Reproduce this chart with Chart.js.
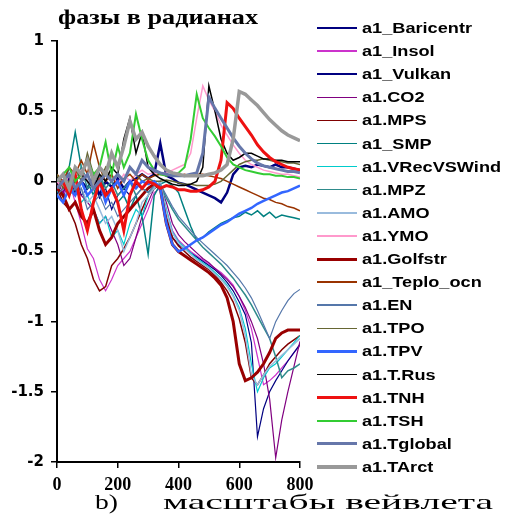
<!DOCTYPE html>
<html>
<head>
<meta charset="utf-8">
<script src="https://cdn.jsdelivr.net/npm/chart.js@4/dist/chart.umd.min.js"></script>
<style>
  html, body { margin: 0; padding: 0; background: #fff; }
  #wrap { position: relative; width: 510px; height: 523px; overflow: hidden; }
  #c { position: absolute; left: 0; top: 0; }
  .txt { position: absolute; white-space: nowrap; transform-origin: left center; color: #000; }
  #title { left: 58px; top: 6px; font: bold 22px/22px "Liberation Serif", serif; }
  #xtitle { left: 163px; top: 491px; font: 22px/22px "Liberation Serif", serif; }
  #blabel { left: 95px; top: 491px; font: 22px/22px "Liberation Serif", serif; }
  .leg { position: absolute; left: 317px; height: 22px; width: 193px; }
  .leg .ln { position: absolute; left: 0; width: 40px; }
  .leg .lt { position: absolute; left: 45px; top: 2px; font: bold 15px/18px "Liberation Sans", Arial, sans-serif;
             white-space: nowrap; transform-origin: left center; color: #000; }
</style>
</head>
<body>
<div id="wrap">
  <canvas id="c" width="510" height="523"></canvas>
  <div id="title" class="txt">фазы в радианах</div>
  <div id="blabel" class="txt">b)</div>
  <div id="xtitle" class="txt">масштабы вейвлета</div>
  <div id="legend"></div>
</div>
<script>
(function () {
  'use strict';

  /* ── Data ────────────────────────────────────────────────────────────── */
  const xScales = [0, 20, 40, 60, 80, 100, 120, 140, 160, 180,
                   200, 220, 240, 260, 280, 300, 320, 340, 360, 380,
                   400, 420, 440, 460, 480, 500, 520, 540, 560, 580,
                   600, 620, 640, 660, 680, 700, 720, 740, 760, 780, 800];
  const xTicks = [0, 200, 400, 600, 800];
  const yTicks = [1, 0.5, 0, -0.5, -1, -1.5, -2];

  const seriesNames = ['a1_Baricentr', 'a1_Insol', 'a1_Vulkan', 'a1.CO2', 'a1.MPS',
                       'a1_SMP', 'a1.VRecVSWind', 'a1.MPZ', 'a1.AMO', 'a1.YMO',
                       'a1.Golfstr', 'a1_Teplo_ocn', 'a1.EN', 'a1.TPO', 'a1.TPV',
                       'a1.T.Rus', 'a1.TNH', 'a1.TSH', 'a1.Tglobal', 'a1.TArct'];

  const baricentr = [-0.05, -0.1, 0.02, -0.08, 0.0, -0.05, 0.03, -0.1, 0.0, -0.04,
                     0.02, -0.05, 0.0, 0.02, 0.05, 0.02, 0.05, 0.27, 0.04, 0.02,
                     -0.01, -0.02, -0.04, -0.06, -0.08, -0.1, -0.12, -0.15, -0.08, 0.05,
                     0.1, 0.11, 0.1, 0.12, 0.11, 0.1, 0.12, 0.1, 0.1, 0.09, 0.08];
  const insol = [-0.05, -0.1, 0.0, -0.15, -0.3, -0.48, -0.55, -0.7, -0.78, -0.7,
                 -0.6, -0.55, -0.5, -0.4, -0.3, -0.2, -0.08, -0.05, -0.2, -0.35,
                 -0.42, -0.46, -0.5, -0.53, -0.56, -0.59, -0.62, -0.65, -0.69, -0.74,
                 -0.82, -0.92, -1.05, -1.25, -1.45, -1.42, -1.38, -1.33, -1.28, -1.22, -1.17];
  const vulkan = [-0.1, 0.0, -0.05, 0.05, -0.1, -0.05, 0.0, -0.12, -0.05, -0.2,
                  -0.1, -0.05, -0.1, -0.02, -0.05, 0.0, -0.02, -0.05, -0.25, -0.4,
                  -0.45, -0.48, -0.51, -0.54, -0.57, -0.6, -0.63, -0.67, -0.72, -0.78,
                  -0.86, -0.95, -1.15, -1.82, -1.62, -1.5, -1.42, -1.35, -1.28, -1.22, -1.16];
  const co2 = [0.0, -0.08, 0.05, -0.05, -0.1, -0.15, -0.2, -0.3, -0.25, -0.35,
               -0.45, -0.6, -0.55, -0.4, -0.25, -0.15, -0.05, -0.03, -0.15, -0.3,
               -0.38, -0.43, -0.47, -0.51, -0.55, -0.58, -0.62, -0.66, -0.7, -0.75,
               -0.82, -0.9, -1.0, -1.12, -1.3, -1.55, -1.97, -1.7, -1.5, -1.32, -1.14];
  const mps = [-0.05, -0.15, -0.2, -0.3, -0.45, -0.55, -0.7, -0.78, -0.75, -0.6,
               -0.55, -0.48, -0.4, -0.3, -0.2, -0.1, -0.05, -0.02, -0.25, -0.4,
               -0.46, -0.5, -0.54, -0.57, -0.6, -0.63, -0.67, -0.72, -0.78, -0.86,
               -0.98, -1.15, -1.4, -1.45, -1.38, -1.3, -1.25, -1.2, -1.16, -1.13, -1.1];
  const smp = [0.02, -0.05, 0.1, 0.35, 0.1, 0.0, -0.1, 0.05, -0.1, -0.05,
               -0.15, -0.1, -0.2, -0.1, -0.25, -0.52, -0.1, -0.02, 0.0, -0.03,
               -0.08, -0.2, -0.32, -0.42, -0.4, -0.36, -0.33, -0.3, -0.28, -0.26,
               -0.25, -0.22, -0.24, -0.21, -0.25, -0.22, -0.26, -0.24, -0.25, -0.26, -0.27];
  const vrec = [-0.08, 0.0, -0.1, -0.05, -0.15, -0.1, -0.2, -0.3, -0.25, -0.4,
                -0.35, -0.45, -0.3, -0.2, -0.25, -0.1, -0.05, 0.0, -0.2, -0.36,
                -0.43, -0.47, -0.51, -0.55, -0.58, -0.61, -0.65, -0.69, -0.74, -0.81,
                -0.9, -1.05, -1.3, -1.5, -1.4, -1.33, -1.3, -1.25, -1.2, -1.15, -1.1];
  const mpz = [0.0, 0.05, -0.05, 0.0, 0.1, -0.05, 0.0, 0.05, -0.05, 0.0,
               -0.1, -0.05, 0.0, -0.1, -0.05, -0.08, -0.03, -0.02, -0.12, -0.2,
               -0.27, -0.32, -0.37, -0.42, -0.47, -0.51, -0.55, -0.59, -0.64, -0.69,
               -0.75, -0.81, -0.88, -0.96, -1.04, -1.12, -1.25, -1.4, -1.35, -1.33, -1.3];
  const amo = [-0.05, 0.05, -0.1, 0.0, -0.05, -0.15, -0.1, -0.2, -0.3, -0.25,
               -0.35, -0.5, -0.4, -0.3, -0.15, -0.1, -0.05, 0.0, -0.22, -0.37,
               -0.44, -0.48, -0.52, -0.56, -0.59, -0.62, -0.66, -0.7, -0.75, -0.82,
               -0.92, -1.1, -1.38, -1.45, -1.38, -1.32, -1.28, -1.24, -1.2, -1.16, -1.12];
  const ymo = [0.0, -0.05, 0.05, 0.0, 0.08, 0.0, -0.05, 0.05, 0.0, 0.05,
               -0.02, 0.05, 0.0, 0.05, 0.08, 0.05, 0.06, 0.05, 0.06, 0.08,
               0.1, 0.12, 0.2, 0.45, 0.68, 0.58, 0.5, 0.4, 0.33, 0.26,
               0.2, 0.15, 0.12, 0.1, 0.08, 0.07, 0.06, 0.05, 0.05, 0.04, 0.03];
  const golfstr = [-0.05, -0.1, -0.2, -0.15, -0.25, -0.3, -0.2, -0.35, -0.45, -0.4,
                   -0.3, -0.25, -0.2, -0.15, -0.1, -0.05, -0.02, -0.05, -0.3, -0.45,
                   -0.5, -0.53, -0.56, -0.59, -0.62, -0.65, -0.69, -0.74, -0.83, -1.0,
                   -1.3, -1.42, -1.4, -1.36, -1.3, -1.22, -1.12, -1.08, -1.06, -1.06, -1.06];
  const teplo = [0.05, 0.0, 0.1, 0.05, 0.15, 0.05, 0.27, 0.1, 0.0, 0.05,
                 -0.05, 0.02, 0.05, 0.0, 0.05, 0.02, 0.04, 0.05, 0.04, 0.05,
                 0.04, 0.05, 0.04, 0.05, 0.05, 0.04, 0.03, 0.02, 0.0, -0.02,
                 -0.04, -0.06, -0.08, -0.1, -0.12, -0.13, -0.15, -0.16, -0.18, -0.19, -0.21];
  const en = [-0.1, -0.05, 0.0, -0.1, -0.05, -0.2, -0.15, -0.1, -0.2, -0.15,
              -0.25, -0.2, -0.15, -0.1, -0.05, -0.08, -0.03, -0.02, -0.1, -0.18,
              -0.25, -0.3, -0.35, -0.4, -0.44, -0.48, -0.52, -0.56, -0.6, -0.65,
              -0.7, -0.76, -0.83, -0.92, -1.02, -1.12, -1.0, -0.92, -0.85, -0.8, -0.77];
  const tpo = [0.05, -0.05, 0.0, 0.1, 0.0, 0.2, 0.05, 0.0, 0.1, 0.0,
               0.05, 0.0, 0.1, 0.05, 0.0, 0.02, 0.0, 0.0, 0.01, 0.0,
               -0.01, -0.02, -0.02, -0.03, -0.03, -0.03, -0.02, 0.0, 0.04, 0.08,
               0.12, 0.14, 0.15, 0.15, 0.16, 0.15, 0.14, 0.14, 0.13, 0.13, 0.12];
  const tpv = [-0.1, -0.15, -0.05, -0.1, 0.0, -0.1, -0.05, 0.0, -0.15, -0.05,
               0.0, -0.1, 0.0, -0.05, 0.0, -0.02, 0.0, -0.05, -0.3, -0.45,
               -0.5, -0.48, -0.45, -0.42, -0.4, -0.37, -0.34, -0.31, -0.29, -0.26,
               -0.23, -0.21, -0.19, -0.16, -0.14, -0.12, -0.1, -0.08, -0.07, -0.05, -0.03];
  const trus = [0.0, 0.05, -0.05, 0.0, 0.05, 0.0, -0.05, 0.05, 0.0, 0.1,
                0.05, 0.3, 0.45, 0.2, 0.35, 0.1, 0.05, 0.02, 0.0, -0.02,
                -0.03, -0.03, -0.02, 0.0, 0.1, 0.68, 0.5, 0.3, 0.2, 0.15,
                0.17, 0.2, 0.2, 0.18, 0.16, 0.16, 0.15, 0.15, 0.14, 0.14, 0.14];
  const tnh = [-0.05, 0.0, -0.1, 0.05, -0.2, -0.35, -0.15, 0.0, -0.1, -0.05,
               -0.15, -0.35, -0.1, 0.0, -0.05, 0.0, -0.02, -0.05, -0.03, -0.04,
               -0.06, -0.06, -0.07, -0.07, -0.06, -0.04, 0.0, 0.15, 0.56, 0.52,
               0.45, 0.39, 0.33, 0.26, 0.21, 0.17, 0.14, 0.12, 0.1, 0.09, 0.08];
  const tsh = [0.0, 0.05, 0.1, 0.0, 0.05, 0.15, 0.05, 0.1, 0.28, 0.05,
               0.25, 0.1, 0.2, 0.48, 0.3, 0.15, 0.08, 0.05, 0.04, 0.05,
               0.06, 0.1, 0.3, 0.62, 0.45, 0.38, 0.32, 0.25, 0.17, 0.12,
               0.1, 0.08, 0.07, 0.06, 0.05, 0.05, 0.04, 0.04, 0.03, 0.03, 0.02];
  const tglobal = [-0.05, 0.0, 0.05, -0.05, 0.0, 0.05, -0.05, 0.0, 0.05, 0.0,
                   0.05, 0.0, 0.1, 0.05, 0.15, 0.1, 0.08, 0.06, 0.05, 0.04,
                   0.04, 0.04, 0.05, 0.06, 0.2, 0.6, 0.52, 0.45, 0.38, 0.31,
                   0.25, 0.2, 0.16, 0.13, 0.11, 0.1, 0.09, 0.08, 0.07, 0.07, 0.06];
  const tarct = [0.0, 0.05, -0.05, 0.1, 0.05, 0.15, 0.0, 0.1, 0.05, 0.2,
                 0.1, 0.25, 0.43, 0.3, 0.35, 0.25, 0.18, 0.12, 0.08, 0.06,
                 0.05, 0.04, 0.04, 0.04, 0.04, 0.05, 0.06, 0.08, 0.12, 0.3,
                 0.64, 0.62, 0.58, 0.54, 0.49, 0.44, 0.4, 0.36, 0.33, 0.31, 0.29];

  const seriesValues = [baricentr, insol, vulkan, co2, mps, smp, vrec, mpz, amo, ymo,
                        golfstr, teplo, en, tpo, tpv, trus, tnh, tsh, tglobal, tarct];

  /* ── Line styles (colour, width) per series ──────────────────────────── */
  const seriesColors = ['#00007f', '#cc33cc', '#000080', '#800080', '#800000',
                        '#008080', '#00cccc', '#2e8b8b', '#99bbdd', '#ff99cc',
                        '#990000', '#993300', '#5577aa', '#666633', '#3366ff',
                        '#000000', '#ee1111', '#33cc33', '#6677aa', '#999999'];
  const seriesWidths = [2.5, 1.2, 1.2, 1.2, 1.5, 1.5, 1.2, 1.5, 1.5, 1.5,
                        3, 1.5, 1.2, 1.5, 2.5, 1.5, 3, 2, 3, 3.5];

  /* ── Chart ───────────────────────────────────────────────────────────── */
  const n = seriesNames.length;
  const datasets = seriesNames.map((name, i) => ({
    label: name,
    data: xScales.map((x, k) => ({ x, y: seriesValues[i][k] })),
    borderColor: seriesColors[i],
    backgroundColor: seriesColors[i],
    borderWidth: seriesWidths[i],
    pointRadius: 0,
    tension: 0,
    fill: false,
    order: n - 1 - i,          // later series drawn on top, as in the original
  }));

  const axisGrid = { display: true, drawOnChartArea: false, drawTicks: true,
                     tickLength: 6, color: '#000', lineWidth: 1.5 };

  new Chart(document.getElementById('c').getContext('2d'), {
    type: 'line',
    data: { datasets },
    options: {
      responsive: false,
      animation: false,
      devicePixelRatio: 1,
      layout: { padding: { left: 0, right: 210, top: 41, bottom: 31 } },
      plugins: { legend: { display: false }, tooltip: { enabled: false } },
      scales: {
        x: {
          type: 'linear', min: 0, max: 800,
          afterBuildTicks: s => { s.ticks = xTicks.map(v => ({ value: v })); },
          afterFit: s => { s.height = 30; },
          grid: axisGrid,
          border: { display: true, color: '#000', width: 2 },
          ticks: { color: '#000', padding: 7, maxRotation: 0, autoSkip: false,
                   font: { family: 'Liberation Serif', size: 18, weight: 'bold' } },
        },
        y: {
          type: 'linear', min: -2, max: 1,
          afterBuildTicks: s => { s.ticks = yTicks.map(v => ({ value: v })); },
          afterFit: s => { s.width = 57; },
          grid: axisGrid,
          border: { display: true, color: '#000', width: 2 },
          ticks: { color: '#000', padding: 7, callback: v => String(v),
                   font: { family: 'DejaVu Sans', size: 15, weight: 'bold' } },
        },
      },
    },
  });

  /* ── Legend (HTML, right side) ───────────────────────────────────────── */
  const legend = document.getElementById('legend');
  seriesNames.forEach((name, i) => {
    const row = document.createElement('div');
    row.className = 'leg';
    row.style.top = (28 + i * 23.1 - 11) + 'px';
    const ln = document.createElement('div');
    ln.className = 'ln';
    const w = Math.max(1.5, seriesWidths[i]);
    ln.style.height = w + 'px';
    ln.style.top = (11 - w / 2) + 'px';
    ln.style.background = seriesColors[i];
    const lt = document.createElement('span');
    lt.className = 'lt';
    lt.textContent = name;
    row.appendChild(ln);
    row.appendChild(lt);
    legend.appendChild(row);
  });

  /* ── Stretch texts horizontally to the widths seen in the picture ───── */
  function fitWidth(el, target) {
    const w = el.getBoundingClientRect().width;
    if (w > 0) el.style.transform = 'scaleX(' + (target / w) + ')';
  }
  fitWidth(document.getElementById('title'), 200);
  fitWidth(document.getElementById('xtitle'), 330);
  fitWidth(document.getElementById('blabel'), 23);
  const first = legend.querySelector('.lt');
  const k = 110 / first.getBoundingClientRect().width;
  legend.querySelectorAll('.lt').forEach(el => { el.style.transform = 'scaleX(' + k + ')'; });
})();
</script>
</body>
</html>
